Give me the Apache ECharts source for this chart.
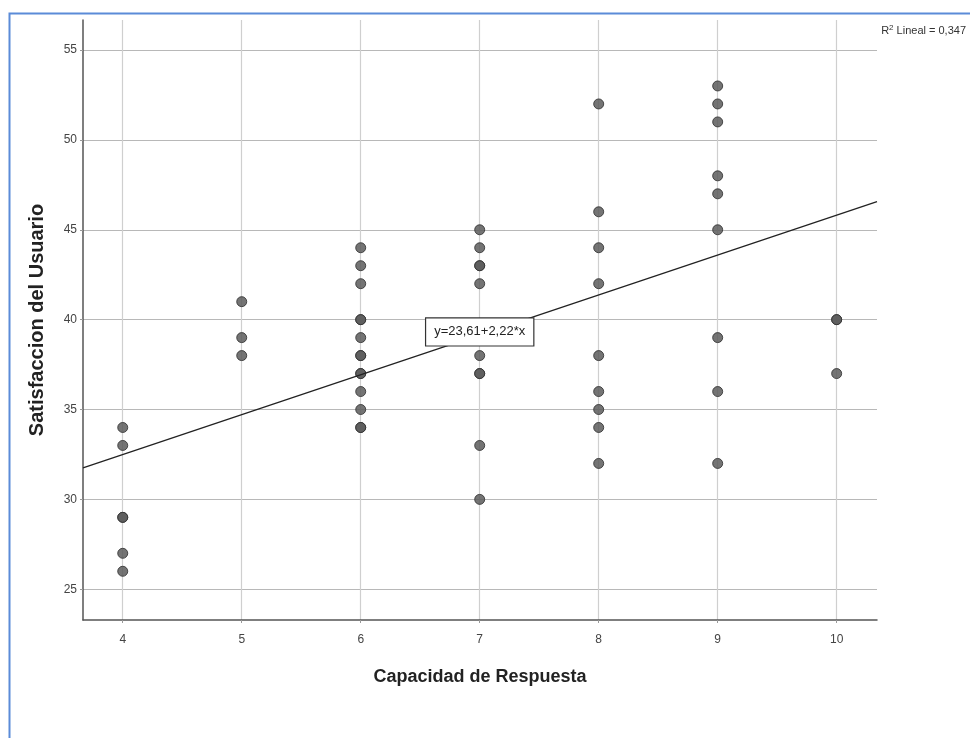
<!DOCTYPE html>
<html>
<head>
<meta charset="utf-8">
<script src="https://cdn.jsdelivr.net/npm/echarts@6/dist/echarts.min.js"></script>
<style>
  html, body { margin: 0; padding: 0; background: #fff; }
  #chart { width: 970px; height: 738px; }
</style>
</head>
<body>
<div id="chart"></div>
<script>
// Capacidad de Respuesta (x) vs Satisfaccion del Usuario (y)
const capacidad = [
  4, 4, 4, 4, 4, 4,
  5, 5, 5,
  6, 6, 6, 6, 6, 6, 6, 6, 6, 6, 6, 6, 6, 6,
  7, 7, 7, 7, 7, 7, 7, 7, 7, 7,
  8, 8, 8, 8, 8, 8, 8, 8, 8,
  9, 9, 9, 9, 9, 9, 9, 9, 9,
  10, 10, 10
];
const satisfaccion = [
  34, 33, 29, 29, 27, 26,
  41, 39, 38,
  44, 43, 42, 40, 40, 39, 38, 38, 37, 37, 36, 35, 34, 34,
  45, 44, 43, 43, 42, 38, 37, 37, 33, 30,
  52, 46, 44, 42, 38, 36, 35, 34, 32,
  53, 52, 51, 48, 47, 45, 39, 36, 32,
  40, 40, 37
];
const xTicks = [4, 5, 6, 7, 8, 9, 10];
const yTicks = [25, 30, 35, 40, 45, 50, 55];
const intercept = 23.61;
const slope = 2.22;
const r2 = "0,347";
const equationText = "y=23,61+2,22*x";

const xMin = 3.666, xMax = 10.339;
const yMin = 23.29, yMax = 56.67;

const points = capacidad.map((c, i) => [c, satisfaccion[i]]);
const fit = (x) => intercept + slope * x;
const labelX = 7;

const sans = "'Liberation Sans', Arial, sans-serif";
const narrow = "'Liberation Sans Narrow', 'Arial Narrow', 'Liberation Sans', Arial, sans-serif";

const chart = echarts.init(document.getElementById("chart"));
chart.setOption({
  animation: false,
  backgroundColor: "#fff",
  grid: { left: 83, top: 20, width: 794, height: 600 },
  xAxis: {
    type: "value",
    min: xMin,
    max: xMax,
    name: "Capacidad de Respuesta",
    nameLocation: "middle",
    nameGap: 48,
    nameTextStyle: { fontFamily: sans, fontSize: 18, fontWeight: "bold", color: "#222" },
    axisLine: { show: true, onZero: false, lineStyle: { color: "#555", width: 1.5 } },
    axisTick: { show: true, customValues: xTicks, length: 3, lineStyle: { color: "#999" } },
    axisLabel: { customValues: xTicks, color: "#444", fontSize: 12, fontFamily: narrow, margin: 14 },
    splitLine: { show: true, lineStyle: { color: "#cfcfcf", width: 1.2 } }
  },
  yAxis: {
    type: "value",
    min: yMin,
    max: yMax,
    name: "Satisfaccion del Usuario",
    nameLocation: "middle",
    nameGap: 36,
    nameTextStyle: { fontFamily: sans, fontSize: 20, fontWeight: "bold", color: "#222" },
    axisLine: { show: true, onZero: false, lineStyle: { color: "#555", width: 1.5 } },
    axisTick: { show: true, customValues: yTicks, length: 3, lineStyle: { color: "#999" } },
    axisLabel: { customValues: yTicks, color: "#444", fontSize: 12, fontFamily: narrow, margin: 6 },
    splitLine: { show: true, lineStyle: { color: "#b8b8b8", width: 1.2 } }
  },
  series: [
    {
      type: "line",
      data: [[xMin, fit(xMin)], [xMax, fit(xMax)]],
      symbol: "none",
      silent: true,
      lineStyle: { color: "#222", width: 1.3 },
      z: 3,
      markPoint: {
        silent: true,
        symbol: "rect",
        symbolSize: [2, 2],
        itemStyle: { color: "#fff" },
        label: {
          show: true,
          position: "inside",
          offset: [0, -3],
          formatter: equationText,
          fontFamily: narrow,
          fontSize: 13,
          color: "#222",
          backgroundColor: "#fff",
          borderColor: "#333",
          borderWidth: 1.2,
          padding: [7, 8, 7, 8]
        },
        data: [{ coord: [labelX, fit(labelX)] }]
      }
    },
    {
      type: "scatter",
      data: points,
      symbolSize: 10,
      itemStyle: { color: "#5c5c5c", borderColor: "#333", borderWidth: 1, opacity: 0.85 },
      z: 2
    }
  ],
  graphic: [
    {
      type: "polyline",
      shape: { points: [[9.5, 1000], [9.5, 13.5], [1000, 13.5]] },
      style: { stroke: "#5b8bd8", lineWidth: 2, fill: null }
    },
    {
      type: "text",
      right: 4,
      top: 24,
      style: {
        text: "{r|R}{s|2}{r| Lineal = " + r2 + "}",
        rich: {
          r: { fontFamily: narrow, fontSize: 11, fill: "#333" },
          s: { fontFamily: narrow, fontSize: 8, fill: "#333", verticalAlign: "top", padding: [0, 0, 6, 0] }
        }
      }
    }
  ]
});
</script>
</body>
</html>
